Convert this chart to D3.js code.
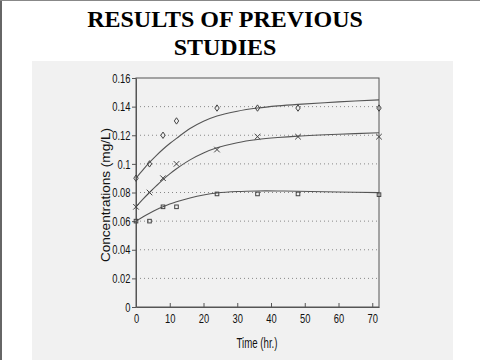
<!DOCTYPE html>
<html><head><meta charset="utf-8">
<script src="https://cdn.jsdelivr.net/npm/d3@7"></script>
<style>
html,body{margin:0;padding:0;background:#fff;}
svg{display:block;}
</style></head>
<body>
<svg id="c" width="480" height="360"></svg>
<script>
const titleLines = ["RESULTS OF PREVIOUS", "STUDIES"];
const xLabel = "Time (hr.)";
const yLabel = "Concentrations (mg/L)";
const xTicks = [0,10,20,30,40,50,60,70];
const yTicks = [0,0.02,0.04,0.06,0.08,0.1,0.12,0.14,0.16];
const yTickLabels = ["0","0.02","0.04","0.06","0.08","0.1","0.12","0.14","0.16"];

// measured points
const sampleTimes = [0,4,8,12,24,36,48,72];
const diamondVals = [0.09,0.10,0.12,0.13,0.139,0.139,0.139,0.139];
const crossVals   = [0.07,0.08,0.09,0.10,0.11,0.119,0.119,0.119];
const squareVals  = [0.06,0.06,0.07,0.07,0.079,0.079,0.079,0.0785];

// fitted curves
const curveTimes = [0,2,4,6,8,10,12,16,20,24,30,36,42,48,60,72];
const curveTop = [0.090,0.0957,0.1010,0.1058,0.1102,0.1142,0.1178,0.1247,0.1298,0.1335,0.1368,0.1390,0.1405,0.1416,0.1433,0.1447];
const curveMid = [0.070,0.0752,0.0800,0.0846,0.0890,0.0930,0.0966,0.1028,0.1076,0.1112,0.1148,0.1170,0.1184,0.1194,0.1207,0.1217];
const curveBot = [0.060,0.0629,0.0655,0.0679,0.0700,0.0719,0.0735,0.0762,0.0783,0.0797,0.0807,0.0811,0.0811,0.0809,0.0804,0.0799];

const svg = d3.select("#c");
const ink = "#555";
const narrow = (sel, f) => sel.each(function(){
  const w = this.getComputedTextLength();
  d3.select(this).attr("textLength", w*f).attr("lengthAdjust","spacingAndGlyphs");
});

// page background and frame edges
svg.append("rect").attr("x",32).attr("y",61).attr("width",421).attr("height",299).attr("fill","#f1f1f1");
svg.append("line").attr("x1",1).attr("x2",1).attr("y1",0).attr("y2",360).attr("stroke","#666").attr("stroke-width",2);
svg.append("line").attr("x1",0).attr("x2",480).attr("y1",0.5).attr("y2",0.5).attr("stroke","#888").attr("stroke-width",1);

// title
const tt = svg.append("text").attr("text-anchor","middle")
  .attr("font-family","'Liberation Serif','Times New Roman',serif").attr("font-weight","bold")
  .attr("font-size",24).attr("fill","#000");
titleLines.forEach((t,i)=> tt.append("tspan").attr("x",225).attr("y",27+i*28).text(t));

const L=136, R=379, T=78, B=307;
const x = d3.scaleLinear().domain([0,72]).range([L,R]);
const y = d3.scaleLinear().domain([0,0.16]).range([B,T]);

// grid
svg.append("g").selectAll("line").data(yTicks.filter(v=>v>0 && v<0.16)).join("line")
  .attr("x1",L).attr("x2",R).attr("y1",d=>y(d)).attr("y2",d=>y(d))
  .attr("stroke","#888").attr("stroke-width",1).attr("stroke-dasharray","1,3");

// frame
svg.append("rect").attr("x",L).attr("y",T).attr("width",R-L).attr("height",B-T)
  .attr("fill","none").attr("stroke",ink).attr("stroke-width",1);

// axes
const gx = svg.append("g").attr("transform",`translate(0,${B})`)
  .call(d3.axisBottom(x).tickValues(xTicks).tickSizeInner(-4).tickSizeOuter(0).tickPadding(7));
const gy = svg.append("g").attr("transform",`translate(${L},0)`)
  .call(d3.axisLeft(y).tickValues(yTicks).tickFormat((d,i)=>yTickLabels[i]).tickSizeInner(4).tickSizeOuter(0).tickPadding(1.5));
[gx,gy].forEach(g=>{
  g.select(".domain").attr("stroke",ink);
  g.selectAll(".tick line").attr("stroke",ink);
  g.selectAll(".tick text").attr("fill","#111").attr("font-size",13)
    .attr("font-family","'Liberation Sans',Arial,sans-serif");
  narrow(g.selectAll(".tick text"), 0.72);
});

svg.append("text").attr("x",257).attr("y",348).attr("text-anchor","middle")
  .attr("font-family","'Liberation Sans',Arial,sans-serif")
  .attr("font-size",14).attr("fill","#111").attr("textLength",41).attr("lengthAdjust","spacingAndGlyphs").text(xLabel);
svg.append("text").attr("transform","translate(109.5,195) rotate(-90)").attr("text-anchor","middle")
  .attr("font-family","'Liberation Sans',Arial,sans-serif")
  .attr("font-size",13).attr("fill","#111").attr("textLength",134).attr("lengthAdjust","spacingAndGlyphs").text(yLabel);

// curves
const line = d3.line().x((d,i)=>x(curveTimes[i])).y(d=>y(d)).curve(d3.curveCatmullRom);
[curveTop,curveMid,curveBot].forEach(c=>{
  svg.append("path").attr("d",line(c)).attr("fill","none").attr("stroke","#555").attr("stroke-width",1.1);
});

// markers
const mk = svg.append("g").attr("fill","none").attr("stroke","#444").attr("stroke-width",1);
mk.selectAll(".dm").data(diamondVals).join("path")
  .attr("d",(d,i)=>{const cx=x(sampleTimes[i]), cy=y(d); return `M${cx},${cy-3.2}L${cx+2.2},${cy}L${cx},${cy+3.2}L${cx-2.2},${cy}Z`;});
mk.selectAll(".cr").data(crossVals).join("path")
  .attr("d",(d,i)=>{const cx=x(sampleTimes[i]), cy=y(d), r=2.8; return `M${cx-r},${cy-r}L${cx+r},${cy+r}M${cx-r},${cy+r}L${cx+r},${cy-r}`;});
mk.selectAll(".sq").data(squareVals).join("rect")
  .attr("x",(d,i)=>x(sampleTimes[i])-1.8).attr("y",d=>y(d)-1.8).attr("width",3.6).attr("height",3.6);
</script>
</body></html>
